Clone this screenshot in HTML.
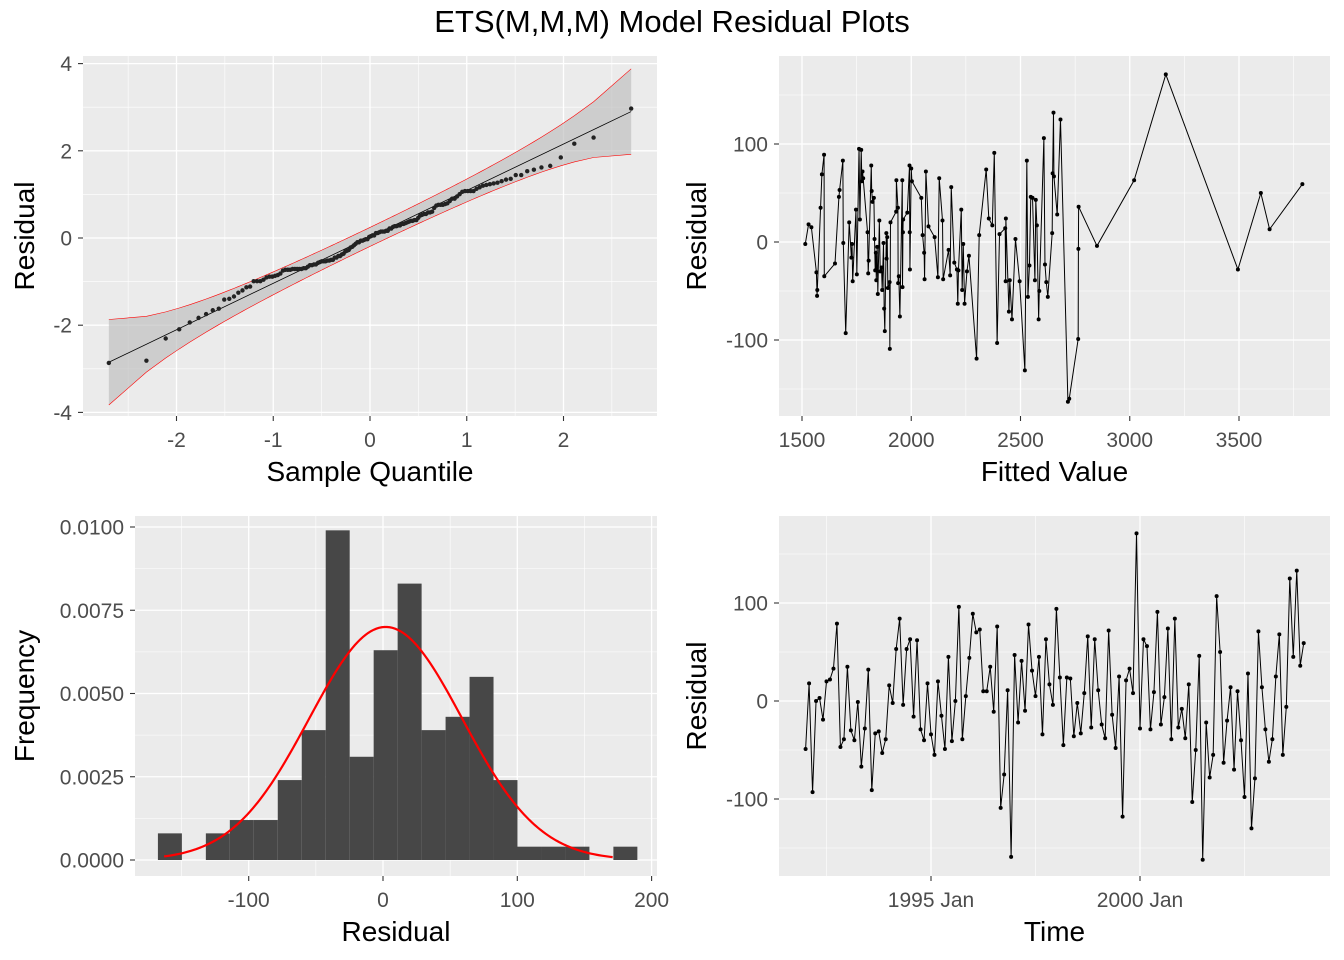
<!DOCTYPE html>
<html><head><meta charset="utf-8">
<style>
body{margin:0;background:#fff;}
svg{display:block;font-family:"Liberation Sans",Arial,sans-serif;}
.tick{font-size:21px;fill:#4D4D4D;}
.ttl{font-size:28px;fill:#000;}
</style></head>
<body>
<svg id="chart" width="1344" height="960" viewBox="0 0 1344 960">
<text x="672" y="32" text-anchor="middle" font-size="31">ETS(M,M,M) Model Residual Plots</text>
</svg>
<script>
// residuals in time order (Jan 1992 - Dec 2003)
const residuals=[-49,18,-93,0,3,-19,20,22,33,79,-47,-39,35,-30,-40,-1,-67,-28,32,-91,-33,-31,-53,-39,16,-2,53,84,-4,53,63,-16,62,-29,-40,18,-34,-55,20,-15,-49,45,-41,0,96,-39,5,44,89,
70,73,10,10,35,-11,76,-109,-75,11,-159,47,-22,41,-10,78,31,5,45,-34,63,17,-4,94,24,-45,24,23,-36,-2,-33,8,66,-27,63,11,-24,-38,72,-14,-48,25,-118,21,33,8,171,
-28,63,56,-29,9,91,-24,4,74,-39,84,-27,-8,-38,17,-103,-50,46,-162,-22,-78,-55,107,50,-63,-20,14,-70,10,-40,-98,28,-130,-79,71,14,-29,-62,-39,25,68,-55,-6,125,45,133,36,59];
const startYear=1992;
// residual vs fitted (sorted by fitted value)
const fittedVals=[1515,1530,1543,1566,1569,1570,1585,1591,1601,1602,1651,1669,1672,1687,1689,1700,1716,1726,1729,1732,1747,1751,1761,1765,1771,1774,1777,1780,1800,1803,1805,1817,1819,1823,1829,1832,1835,1838,1840,1844,1847,1854,1858,1864,1867,1873,1876,1879,1886,1887,1890,1893,1901,1902,1905,1931,1932,1939,1940,1943,1948,1959,1960,1962,1963,1982,1992,1993,1994,2000,2003,2046,2052,2059,2061,2067,2079,2107,2122,2128,2143,2146,2171,2178,2183,2197,2209,2213,2216,2229,2233,2238,2244,2255,2264,2299,2311,2343,2355,2371,2380,2393,2404,2430,2432,2433,2447,2451,2461,2477,2496,2520,2529,2534,2541,2547,2555,2566,2570,2575,2583,2586,2607,2612,2618,2625,2645,2647,2651,2653,2668,2683,2717,2723,2764,2765,2766,2850,3020,3165,3495,3600,3640,3790];
const fittedResid=[-2,18,15,-31,-55,-49,35,69,89,-35,-22,46,53,83,-1,-93,20,-16,-2,-40,33,-33,95,23,94,62,72,65,10,-32,-19,78,52,41,45,3,-29,-11,-39,-5,-53,22,-30,-26,-49,-1,-68,-91,9,-17,5,-47,-41,-109,20,31,63,35,-42,-35,-76,63,-46,10,23,30,78,10,-28,75,62,45,7,-11,-38,72,16,5,-36,65,22,-38,-8,-34,56,-21,-28,-63,-29,33,-49,-2,-63,-30,-14,-119,7,74,24,17,91,-103,8,14,-40,24,-71,-39,-79,3,-40,-131,83,-56,-24,46,45,-39,43,17,-79,-50,106,-23,-41,-56,9,70,132,67,28,125,-163,-160,-99,-7,36,-4,63,171,-28,50,13,59];
// histogram
const histStart=-167.6, histWidth=17.85;
const histDensity=[0.0008,0,0.0008,0.0012,0.0012,0.0024,0.0039,0.0099,0.0031,0.0063,0.0083,0.0039,0.0043,0.0055,0.0024,0.0004,0.0004,0.0004,0,0.0004];
const normMean=2, normSd=57;
// tick labels
const qqXTicks=[-2,-1,0,1,2], qqYTicks=[-4,-2,0,2,4];
const fvXTicks=[1500,2000,2500,3000,3500], residTicks=[-100,0,100];
const histXTicks=[-100,0,100,200], histYTicks=[0,0.0025,0.005,0.0075,0.01];
const histYLabels=["0.0000","0.0025","0.0050","0.0075","0.0100"];
const timeTicks=[1995,2000], timeLabels=["1995 Jan","2000 Jan"];

const NS="http://www.w3.org/2000/svg";
const svg=document.getElementById('chart');
function mk(tag,attrs,parent){const e=document.createElementNS(NS,tag);for(const k in attrs)e.setAttribute(k,attrs[k]);(parent||svg).appendChild(e);return e;}
function lin(d0,d1,r0,r1){return v=>r0+(v-d0)*(r1-r0)/(d1-d0);}

function panel(name,x0,y0,x1,y1,sx,sy,xMaj,xMin,yMaj,yMin,xLab,yLab,xTitle,yTitle,yTitleX){
  const g=mk('g',{});
  
  
  const bg=mk('rect',{x:x0,y:y0,width:x1-x0,height:y1-y0,fill:'#EBEBEB'},g);
  
  
  xMin.forEach(v=>{const x=sx(v);mk('line',{x1:x,x2:x,y1:y0,y2:y1,stroke:'#fff','stroke-width':0.6},g);});
  yMin.forEach(v=>{const y=sy(v);mk('line',{x1:x0,x2:x1,y1:y,y2:y,stroke:'#fff','stroke-width':0.6},g);});
  xMaj.forEach((v,i)=>{const x=sx(v);mk('line',{x1:x,x2:x,y1:y0,y2:y1,stroke:'#fff','stroke-width':1.3},g);
    mk('line',{x1:x,x2:x,y1:y1,y2:y1+5,stroke:'#333','stroke-width':1.1},g);
    const t=mk('text',{x:x,y:y1+31,'text-anchor':'middle',class:'tick'},g);t.textContent=xLab[i];
    
    });
  yMaj.forEach((v,i)=>{const y=sy(v);mk('line',{x1:x0,x2:x1,y1:y,y2:y,stroke:'#fff','stroke-width':1.3},g);
    mk('line',{x1:x0-5,x2:x0,y1:y,y2:y,stroke:'#333','stroke-width':1.1},g);
    const t=mk('text',{x:x0-11,y:y+7.5,'text-anchor':'end',class:'tick'},g);t.textContent=yLab[i];
    
    });
  const xt=mk('text',{x:(x0+x1)/2,y:y1+65,'text-anchor':'middle',class:'ttl'},g);xt.textContent=xTitle;
  
  
  const yc=(y0+y1)/2, yx=yTitleX;
  const yt=mk('text',{x:yx,y:yc,'text-anchor':'middle',class:'ttl',transform:`rotate(-90 ${yx} ${yc})`},g);yt.textContent=yTitle;
  
  
  return g;
}
function clip(id,x0,y0,x1,y1){const d=mk('clipPath',{id:id});mk('rect',{x:x0,y:y0,width:x1-x0,height:y1-y0},d);}

// ---------- QQ panel ----------
function qnorm(p){const a=[-39.6968302866538,220.946098424521,-275.928510446969,138.357751867269,-30.6647980661472,2.50662827745924],
b=[-54.4760987982241,161.585836858041,-155.698979859887,66.8013118877197,-13.2806815528857],
c=[-0.00778489400243029,-0.322396458041136,-2.40075827716184,-2.54973253934373,4.37466414146497,2.93816398269878],
d=[0.00778469570904146,0.32246712907004,2.445134137143,3.75440866190742];
let q,r;if(p<0.02425){q=Math.sqrt(-2*Math.log(p));return(((((c[0]*q+c[1])*q+c[2])*q+c[3])*q+c[4])*q+c[5])/((((d[0]*q+d[1])*q+d[2])*q+d[3])*q+1);}
if(p>1-0.02425){q=Math.sqrt(-2*Math.log(1-p));return-(((((c[0]*q+c[1])*q+c[2])*q+c[3])*q+c[4])*q+c[5])/((((d[0]*q+d[1])*q+d[2])*q+d[3])*q+1);}
q=p-0.5;r=q*q;return(((((a[0]*r+a[1])*r+a[2])*r+a[3])*r+a[4])*r+a[5])*q/(((((b[0]*r+b[1])*r+b[2])*r+b[3])*r+b[4])*r+1);}
{
 const x0=83,y0=56,x1=657,y1=416;
 const sx=lin(0,1,370,466.75), sy=lin(0,1,238,194.4);
 const g=panel('qq-plot-panel',x0,y0,x1,y1,sx,sy,qqXTicks,[-2.5,-1.5,-0.5,0.5,1.5,2.5],qqYTicks,[-3,-1,1,3],qqXTicks.map(String),qqYTicks.map(String),'Sample Quantile','Residual',34);
 clip('c1',x0,y0,x1,y1);
 const n=residuals.length, mean=residuals.reduce((a,b)=>a+b,0)/n;
 const sd=Math.sqrt(residuals.reduce((a,b)=>a+(b-mean)**2,0)/(n-1));
 const srt=residuals.map(v=>(v-mean)/sd).sort((a,b)=>a-b);
 const th=srt.map((v,i)=>qnorm((i+0.5)/n));
 const q1=srt[Math.floor(n*0.25)],q3=srt[Math.floor(n*0.75)],t1=qnorm(0.25),t3=qnorm(0.75);
 const slope=(q3-q1)/(t3-t1), icpt=q1-slope*t1;
 let up=[],lo=[];
 th.forEach((t,i)=>{const p=(i+0.5)/n,dn=Math.exp(-t*t/2)/Math.sqrt(2*Math.PI);
   const se=slope/dn*Math.sqrt(p*(1-p)/n)*1.96, c=icpt+slope*t;up.push([sx(t),sy(c+se)]);lo.push([sx(t),sy(c-se)]);});
 const band=mk('polygon',{points:up.concat(lo.slice().reverse()).map(p=>p.join(',')).join(' '),fill:'#BDBDBD','fill-opacity':0.65,'clip-path':'url(#c1)'},g);
 
 
 [up,lo].forEach(arr=>{const l=mk('polyline',{points:arr.map(p=>p.join(',')).join(' '),fill:'none',stroke:'#FF0000','stroke-width':0.6},g);
   
   });
 const rl=mk('line',{x1:sx(th[0]),y1:sy(icpt+slope*th[0]),x2:sx(th[n-1]),y2:sy(icpt+slope*th[n-1]),stroke:'#000','stroke-width':0.8},g);
 
 
 th.forEach((t,i)=>{const c=mk('circle',{cx:sx(t),cy:sy(srt[i]),r:2.2,fill:'#222'},g);
   
   });
}
// ---------- Residual vs fitted ----------
{
 const x0=779,y0=56,x1=1330,y1=416;
 const sx=lin(1500,3500,802,1239), sy=lin(0,100,242,144);
 const g=panel('residual-vs-fitted-panel',x0,y0,x1,y1,sx,sy,fvXTicks,[1750,2250,2750,3250,3750],residTicks,[-150,-50,50,150],fvXTicks.map(String),residTicks.map(String),'Fitted Value','Residual',706);
 const pts=fittedVals.map((f,i)=>[sx(f),sy(fittedResid[i])]);
 const l=mk('polyline',{points:pts.map(p=>p.join(',')).join(' '),fill:'none',stroke:'#000','stroke-width':1},g);
 
 
 pts.forEach(p=>{const c=mk('circle',{cx:p[0],cy:p[1],r:2,fill:'#000'},g);
   
   });
}
// ---------- Histogram ----------
{
 const x0=135,y0=516,x1=657,y1=876;
 const sx=lin(0,100,383,517.3), sy=lin(0,0.01,860,527);
 const g=panel('histogram-panel',x0,y0,x1,y1,sx,sy,histXTicks,[-150,-50,50,150],histYTicks,[0.00125,0.00375,0.00625,0.00875],histXTicks.map(String),histYLabels,'Residual','Frequency',34);
 histDensity.forEach((d,i)=>{if(d<=0)return;const a=histStart+i*histWidth;
   const r=mk('rect',{x:sx(a),y:sy(d),width:sx(a+histWidth)-sx(a),height:sy(0)-sy(d),fill:'#474747'},g);
   
   });
 let pts=[];for(let v=-163;v<=171;v+=2){const dn=Math.exp(-0.5*((v-normMean)/normSd)**2)/(normSd*Math.sqrt(2*Math.PI));pts.push(sx(v)+','+sy(dn));}
 const c=mk('polyline',{points:pts.join(' '),fill:'none',stroke:'#FF0000','stroke-width':2.2},g);
 
 
}
// ---------- Time series ----------
{
 const x0=779,y0=516,x1=1330,y1=876;
 const sx=lin(1995,2000,931,1140), sy=lin(0,100,701,603);
 const g=panel('residual-time-series-panel',x0,y0,x1,y1,sx,sy,timeTicks,[1992.5,1997.5,2002.5],residTicks,[-150,-50,50,150],timeLabels,residTicks.map(String),'Time','Residual',706);
 const pts=residuals.map((r,i)=>[sx(startYear+i/12),sy(r)]);
 const l=mk('polyline',{points:pts.map(p=>p.join(',')).join(' '),fill:'none',stroke:'#000','stroke-width':1},g);
 
 
 pts.forEach(p=>{const c=mk('circle',{cx:p[0],cy:p[1],r:2,fill:'#000'},g);
   
   });
}
</script>
</body></html>
